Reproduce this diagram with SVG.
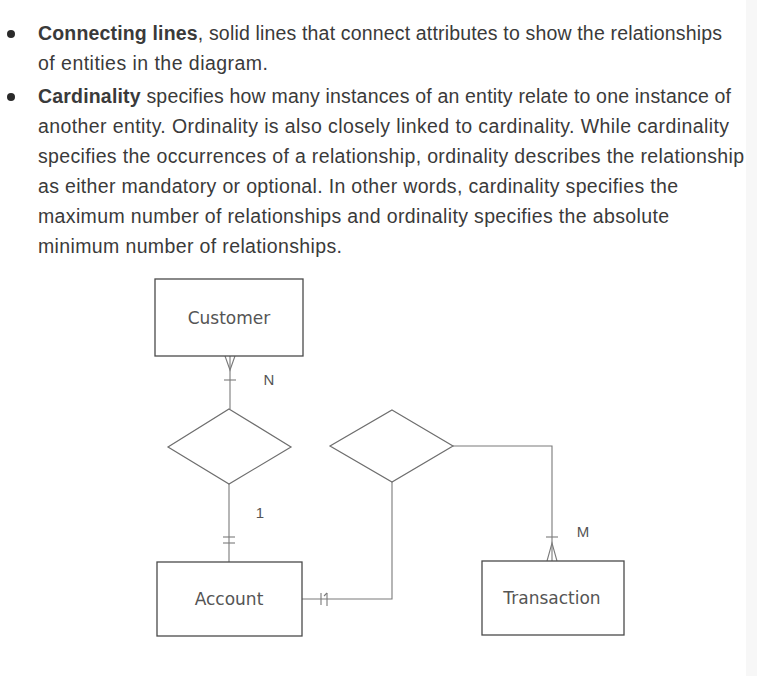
<svg xmlns="http://www.w3.org/2000/svg" width="757" height="676" viewBox="0 0 757 676">
  <style>
    .body { font-family: "Liberation Sans", Arial, sans-serif; font-size: 19.5px; fill: #3a3a3a; }
    .b { font-weight: bold; }
    .entity rect { fill: #ffffff; stroke: #4a4a4a; stroke-width: 1.3; }
    .rel polygon { fill: #ffffff; stroke: #6e6e6e; stroke-width: 1.2; }
    .lbl { font-family: "DejaVu Sans", Verdana, sans-serif; font-size: 17px; fill: #555555; text-anchor: middle; }
    .card { font-family: "Liberation Sans", Arial, sans-serif; font-size: 15px; fill: #555555; text-anchor: middle; }
    .conn { fill: none; stroke: #7a7a7a; stroke-width: 1.1; }
  </style>

  <rect width="757" height="676" fill="#ffffff"/>
  <rect x="746" y="0" width="11" height="676" fill="#f7f7f7"/>

  <!-- bulleted explanation -->
  <g id="text">
    <circle cx="11" cy="34" r="4" fill="#2a2a2a"/>
    <circle cx="11" cy="97" r="4" fill="#2a2a2a"/>
    <text class="body" x="38" y="40" textLength="684" lengthAdjust="spacing"><tspan class="b">Connecting lines</tspan>, solid lines that connect attributes to show the relationships</text>
    <text class="body" x="38" y="70" textLength="230" lengthAdjust="spacing">of entities in the diagram.</text>
    <text class="body" x="38" y="103" textLength="693" lengthAdjust="spacing"><tspan class="b">Cardinality</tspan> specifies how many instances of an entity relate to one instance of</text>
    <text class="body" x="38" y="133" textLength="691" lengthAdjust="spacing">another entity. Ordinality is also closely linked to cardinality. While cardinality</text>
    <text class="body" x="38" y="163" textLength="706" lengthAdjust="spacing">specifies the occurrences of a relationship, ordinality describes the relationship</text>
    <text class="body" x="38" y="193" textLength="640" lengthAdjust="spacing">as either mandatory or optional. In other words, cardinality specifies the</text>
    <text class="body" x="38" y="223" textLength="631" lengthAdjust="spacing">maximum number of relationships and ordinality specifies the absolute</text>
    <text class="body" x="38" y="253" textLength="304" lengthAdjust="spacing">minimum number of relationships.</text>
  </g>

  <!-- connectors with cardinality marks -->
  <g id="connectors" class="conn">
    <!-- Customer to first relationship -->
    <line x1="230" y1="356" x2="230" y2="409"/>
    <path d="M225 356 L230 370 L235 356"/>
    <line x1="224" y1="380" x2="236" y2="380"/>
    <!-- first relationship to Account -->
    <line x1="229" y1="484" x2="229" y2="562"/>
    <line x1="223" y1="537" x2="235" y2="537"/>
    <line x1="223" y1="543" x2="235" y2="543"/>
    <!-- Account to second relationship -->
    <polyline points="302,599 392,599 392,482"/>
    <line x1="321" y1="593" x2="321" y2="605"/>
    <line x1="327" y1="593" x2="327" y2="606"/>
    <line x1="324" y1="596" x2="327" y2="593"/>
    <!-- second relationship to Transaction -->
    <polyline points="453,446 552,446 552,561"/>
    <line x1="546" y1="537" x2="558" y2="537"/>
    <path d="M547 561 L552 543 L557 561"/>
  </g>

  <g id="customer" class="entity">
    <rect x="155" y="279" width="148" height="77"/>
    <text class="lbl" x="229" y="324">Customer</text>
  </g>
  <g id="rel-customer-account" class="rel">
    <polygon points="229,409 291,447 229,484 168,447"/>
  </g>
  <g id="account" class="entity">
    <rect x="157" y="562" width="145" height="74"/>
    <text class="lbl" x="229" y="605">Account</text>
  </g>
  <g id="rel-account-transaction" class="rel">
    <polygon points="392,410 453,446 392,482 330,446"/>
  </g>
  <g id="transaction" class="entity">
    <rect x="482" y="561" width="142" height="74"/>
    <text class="lbl" x="552" y="604">Transaction</text>
  </g>

  <!-- cardinality labels -->
  <g id="labels">
    <text class="card" x="269" y="385">N</text>
    <text class="card" x="260" y="518" font-size="13">1</text>
    <text class="card" x="583" y="537">M</text>
  </g>
</svg>
